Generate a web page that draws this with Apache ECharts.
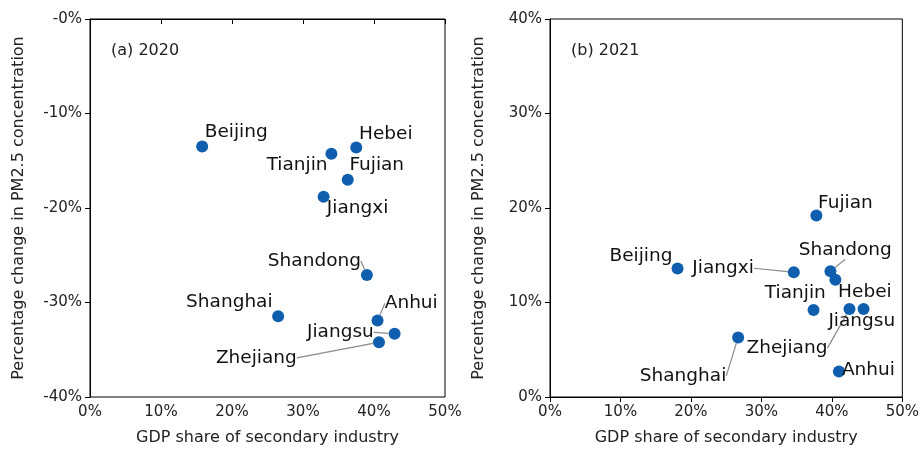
<!DOCTYPE html>
<html>
<head>
<meta charset="utf-8">
<script src="https://cdn.jsdelivr.net/npm/echarts@6/dist/echarts.min.js"></script>
<style>
  html, body { margin: 0; padding: 0; background: #fff; }
  #chart { width: 922px; height: 451px; }
</style>
</head>
<body>
<div id="chart"></div>
<script>
// Panel (a): 2020
const provinces2020 = ['Beijing', 'Hebei', 'Tianjin', 'Fujian', 'Jiangxi', 'Shandong', 'Shanghai', 'Anhui', 'Jiangsu', 'Zhejiang'];
const gdpShare2020 = [15.8, 37.5, 34.0, 36.3, 32.9, 39.0, 26.5, 40.5, 42.9, 40.7];
const pmChange2020 = [-13.5, -13.6, -14.25, -17.0, -18.8, -27.1, -31.45, -31.9, -33.3, -34.2];

// Panel (b): 2021
const provinces2021 = ['Beijing', 'Hebei', 'Tianjin', 'Fujian', 'Jiangxi', 'Shandong', 'Shanghai', 'Anhui', 'Jiangsu', 'Zhejiang'];
const gdpShare2021 = [18.1, 40.5, 37.4, 37.8, 34.6, 39.8, 26.7, 41.0, 44.5, 42.5];
const pmChange2021 = [13.6, 12.4, 9.2, 19.2, 13.2, 13.3, 6.3, 2.7, 9.3, 9.3];

// Axis ticks
const xTicks = [0, 10, 20, 30, 40, 50];
const yTicks2020 = [-40, -30, -20, -10, 0];
const yTicks2021 = [0, 10, 20, 30, 40];

// Pixel offsets of each province label from its point (label centre)
const labelShift2020 = {
  Beijing: [34, -14], Hebei: [29.5, -13.7], Tianjin: [-34.3, 11.7], Fujian: [29, -14.3],
  Jiangxi: [34, 11.7], Shandong: [-52.5, -14], Shanghai: [-48.8, -13.7], Anhui: [33.7, -17],
  Jiangsu: [-54.2, -1.4], Zhejiang: [-122.6, 15.7]
};
const labelShift2021 = {
  Beijing: [-36.6, -12.6], Hebei: [29.5, 12.6], Tianjin: [-18.2, -16.7], Fujian: [29.1, -12.4],
  Jiangxi: [-70.7, -4], Shandong: [14.8, -21.6], Shanghai: [-55.1, 38.4], Anhui: [29.5, -1.6],
  Jiangsu: [-1.8, 12.3], Zhejiang: [-62.5, 39]
};
// Labels that are pushed far enough away to need a guide line
const guided2020 = ['Shandong', 'Anhui', 'Jiangsu', 'Zhejiang'];
const guided2021 = ['Jiangxi', 'Shandong', 'Zhejiang', 'Shanghai'];

const FONT = 'DejaVu Sans';
const DOT = '#0f5fae';

function points(names, xs, ys, guided) {
  return names.map((n, i) => ({
    name: n,
    value: [xs[i], ys[i]],
    labelLine: { show: guided.indexOf(n) >= 0 }
  }));
}

function xAxisFor(gridIndex) {
  return {
    type: 'value', gridIndex: gridIndex,
    min: xTicks[0], max: xTicks[xTicks.length - 1], interval: 10,
    name: 'GDP share of secondary industry',
    nameLocation: 'middle', nameGap: 33,
    nameTextStyle: { fontFamily: FONT, fontSize: 16, color: '#222' },
    axisLine: { show: true, lineStyle: { color: '#000', width: 1 } },
    axisTick: { show: true, inside: false, length: 5, lineStyle: { color: '#000' } },
    axisLabel: { margin: 8, fontFamily: FONT, fontSize: 15, color: '#222', formatter: v => v + '%' },
    splitLine: { show: false }
  };
}

function yAxisFor(gridIndex, ticks, fmt) {
  return {
    type: 'value', gridIndex: gridIndex,
    min: ticks[0], max: ticks[ticks.length - 1], interval: 10,
    name: 'Percentage change in PM2.5 concentration',
    nameLocation: 'middle', nameGap: 63, nameRotate: 90,
    nameTextStyle: { fontFamily: FONT, fontSize: 16, color: '#222' },
    axisLine: { show: true, lineStyle: { color: '#000', width: 1 } },
    axisTick: { show: true, inside: false, length: 5, lineStyle: { color: '#000' } },
    axisLabel: { margin: 8, fontFamily: FONT, fontSize: 15, color: '#222', formatter: fmt },
    splitLine: { show: false }
  };
}

function scatterFor(idx, names, xs, ys, shifts, guided) {
  return {
    type: 'scatter', xAxisIndex: idx, yAxisIndex: idx,
    symbolSize: 12,
    itemStyle: { color: DOT, opacity: 1 },
    data: points(names, xs, ys, guided),
    label: {
      show: true, position: 'inside', formatter: '{b}',
      fontFamily: FONT, fontSize: 18.5, color: '#111'
    },
    labelLayout: function (p) {
      const s = shifts[names[p.dataIndex]];
      return { dx: s[0], dy: s[1] };
    },
    labelLine: { showAbove: true, lineStyle: { color: '#8a8a8a', width: 1.2 } },
    emphasis: { disabled: true }
  };
}

const chart = echarts.init(document.getElementById('chart'), null, { renderer: 'canvas' });
chart.setOption({
  animation: false,
  backgroundColor: '#fff',
  title: [
    { text: '(a) 2020', left: 111, top: 43, padding: 0,
      textStyle: { fontFamily: FONT, fontSize: 16, fontWeight: 'normal', color: '#222' } },
    { text: '(b) 2021', left: 571, top: 43, padding: 0,
      textStyle: { fontFamily: FONT, fontSize: 16, fontWeight: 'normal', color: '#222' } }
  ],
  grid: [
    { left: 90, right: 477, top: 19, bottom: 53, show: true, borderColor: '#000', borderWidth: 1 },
    { left: 550, right: 17, top: 19, bottom: 53, show: true, borderColor: '#000', borderWidth: 1 }
  ],
  xAxis: [xAxisFor(0), xAxisFor(1)],
  yAxis: [
    yAxisFor(0, yTicks2020, v => '-' + Math.abs(v) + '%'),
    yAxisFor(1, yTicks2021, v => v + '%')
  ],
  series: [
    scatterFor(0, provinces2020, gdpShare2020, pmChange2020, labelShift2020, guided2020),
    scatterFor(1, provinces2021, gdpShare2021, pmChange2021, labelShift2021, guided2021)
  ]
});
</script>
</body>
</html>
